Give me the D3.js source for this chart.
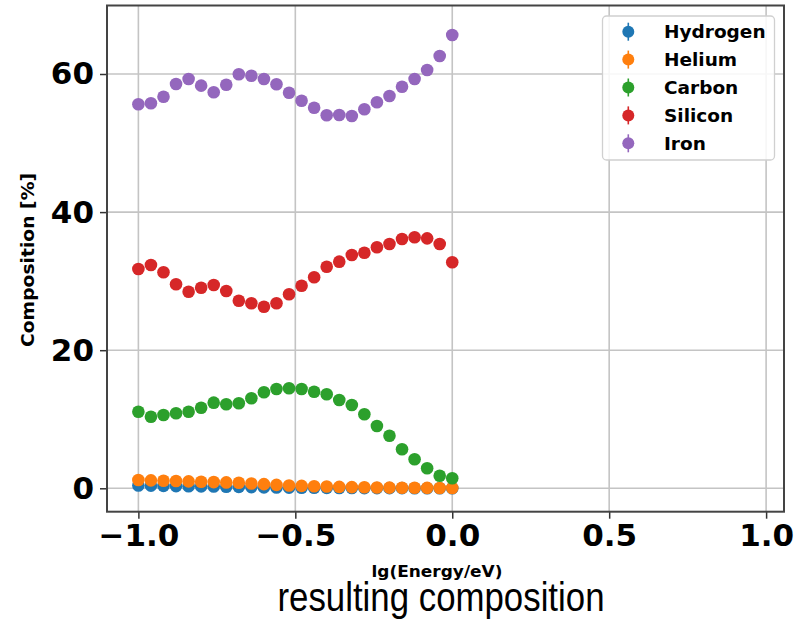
<!DOCTYPE html>
<html>
<head>
<meta charset="utf-8">
<script src="https://cdn.jsdelivr.net/npm/d3@7"></script>
<style>
  html, body { margin: 0; padding: 0; background: #fff; }
  svg { display: block; }
</style>
</head>
<body>
<script>
// Energy bins: lg(E/eV) from -1.0 to 0.0 in steps of 0.04
const energy = [-1.00, -0.96, -0.92, -0.88, -0.84, -0.80, -0.76, -0.72, -0.68, -0.64,
                -0.60, -0.56, -0.52, -0.48, -0.44, -0.40, -0.36, -0.32, -0.28, -0.24,
                -0.20, -0.16, -0.12, -0.08, -0.04, 0.00];

const elements = ["Hydrogen", "Helium", "Carbon", "Silicon", "Iron"];
const colors = ["#1f77b4", "#ff7f0e", "#2ca02c", "#d62728", "#9467bd"];

// Composition fractions in percent per element
const hydrogen = [0.40, 0.38, 0.35, 0.32, 0.30, 0.28, 0.25, 0.22, 0.20, 0.17,
                  0.14, 0.12, 0.10, 0.08, 0.07, 0.06, 0.05, 0.04, 0.03, 0.03,
                  0.02, 0.02, 0.01, 0.01, 0.01, 0.01];
const helium = [1.20, 1.15, 1.10, 1.05, 1.00, 0.95, 0.90, 0.85, 0.80, 0.70,
                0.60, 0.50, 0.40, 0.35, 0.30, 0.25, 0.20, 0.17, 0.15, 0.12,
                0.10, 0.08, 0.07, 0.06, 0.05, 0.05];
const carbon = [11.09, 10.37, 10.62, 10.86, 11.09, 11.67, 12.40, 12.17, 12.31, 13.03,
                13.90, 14.38, 14.48, 14.38, 13.99, 13.61, 12.79, 12.07, 10.72, 9.03,
                7.62, 5.65, 4.20, 2.90, 1.82, 1.45];
const silicon = [31.76, 32.34, 31.28, 29.54, 28.47, 29.05, 29.44, 28.57, 27.17, 26.79,
                 26.30, 26.79, 28.10, 29.34, 30.56, 32.09, 32.82, 33.79, 34.12, 34.90,
                 35.38, 36.10, 36.35, 36.20, 35.38, 32.73];
const iron = [55.61, 55.76, 56.71, 58.55, 59.28, 58.31, 57.35, 58.45, 59.96, 59.75,
              59.28, 58.51, 57.29, 56.13, 55.12, 54.02, 54.06, 53.92, 54.89, 55.90,
              56.81, 58.16, 59.28, 60.58, 62.61, 65.65];

const seriesValues = [hydrogen, helium, carbon, silicon, iron];

const xTicks = [-1.0, -0.5, 0.0, 0.5, 1.0];
const yTicks = [0, 20, 40, 60];

const xLabel = "lg(Energy/eV)";
const yLabel = "Composition [%]";
const title = "resulting composition";

const W = 807, H = 620;
const plot = { left: 107, right: 784, top: 5.5, bottom: 511.7 };

const svg = d3.select("body").append("svg")
  .attr("width", W).attr("height", H)
  .attr("viewBox", `0 0 ${W} ${H}`);

svg.append("rect").attr("width", W).attr("height", H).attr("fill", "#fff");

const x = d3.scaleLinear().domain([-1.1, 1.057]).range([plot.left, plot.right]);
const y = d3.scaleLinear().domain([-3.39, 69.92]).range([plot.bottom, plot.top]);

// Grid
const grid = svg.append("g").attr("stroke", "#c4c4c4").attr("stroke-width", 1.6);
grid.selectAll("line.gx").data(xTicks).join("line")
  .attr("x1", d => x(d)).attr("x2", d => x(d))
  .attr("y1", plot.top).attr("y2", plot.bottom);
grid.selectAll("line.gy").data(yTicks).join("line")
  .attr("y1", d => y(d)).attr("y2", d => y(d))
  .attr("x1", plot.left).attr("x2", plot.right);

// Data points, drawn in series order so heavier elements sit on top
svg.append("clipPath").attr("id", "plotclip")
  .append("rect").attr("x", plot.left).attr("y", plot.top)
  .attr("width", plot.right - plot.left).attr("height", plot.bottom - plot.top);

const pts = svg.append("g").attr("clip-path", "url(#plotclip)");
seriesValues.forEach((vals, i) => {
  pts.append("g").selectAll("circle")
    .data(vals.map((v, j) => ({ e: energy[j], v })))
    .join("circle")
    .attr("cx", d => x(d.e))
    .attr("cy", d => y(d.v))
    .attr("r", 6.3)
    .attr("fill", colors[i]);
});

// Axes
const xAxis = d3.axisBottom(x).tickValues(xTicks).tickFormat(d3.format(".1f"))
  .tickSizeInner(7).tickSizeOuter(0).tickPadding(5);
const yAxis = d3.axisLeft(y).tickValues(yTicks).tickFormat(d3.format("d"))
  .tickSizeInner(7).tickSizeOuter(0).tickPadding(6);

const gx = svg.append("g").attr("transform", `translate(0,${plot.bottom})`).call(xAxis);
const gy = svg.append("g").attr("transform", `translate(${plot.left},0)`).call(yAxis);

[gx, gy].forEach(g => {
  g.select(".domain").remove();
  g.selectAll(".tick line").attr("stroke", "#333").attr("stroke-width", 1.5);
  g.selectAll(".tick text")
    .attr("fill", "#000")
    .style("font-family", "'DejaVu Sans', sans-serif")
    .style("font-weight", "bold")
    .style("font-size", "31px");
});

// Frame
svg.append("rect")
  .attr("x", plot.left).attr("y", plot.top)
  .attr("width", plot.right - plot.left).attr("height", plot.bottom - plot.top)
  .attr("fill", "none").attr("stroke", "#444").attr("stroke-width", 2);

// Axis labels
svg.append("text")
  .attr("x", 437).attr("y", 577)
  .attr("text-anchor", "middle")
  .attr("textLength", 131).attr("lengthAdjust", "spacingAndGlyphs")
  .style("font-family", "'DejaVu Sans', sans-serif")
  .style("font-weight", "bold").style("font-size", "16px")
  .text(xLabel);

svg.append("text")
  .attr("transform", `translate(34,${(173 + 347) / 2}) rotate(-90)`)
  .attr("text-anchor", "middle")
  .attr("textLength", 174).attr("lengthAdjust", "spacingAndGlyphs")
  .style("font-family", "'DejaVu Sans', sans-serif")
  .style("font-weight", "bold").style("font-size", "18px")
  .text(yLabel);

// Title below the plot
svg.append("text")
  .attr("x", 441).attr("y", 611)
  .attr("text-anchor", "middle")
  .attr("textLength", 327).attr("lengthAdjust", "spacingAndGlyphs")
  .style("font-family", "'Liberation Sans Narrow', 'Liberation Sans', sans-serif")
  .style("font-size", "40px")
  .text(title);

// Legend
const lg = svg.append("g");
lg.append("rect")
  .attr("x", 602.5).attr("y", 16).attr("width", 172).attr("height", 144)
  .attr("rx", 4).attr("fill", "#fff").attr("fill-opacity", 0.85)
  .attr("stroke", "#d0d0d0").attr("stroke-width", 1.3);

const rowY = d3.scaleLinear().domain([0, elements.length - 1]).range([31.7, 143.3]);
const items = lg.selectAll("g.item").data(elements).join("g")
  .attr("transform", (d, i) => `translate(628.3,${rowY(i)})`);
items.append("line")
  .attr("x1", 0).attr("x2", 0).attr("y1", -9).attr("y2", 9)
  .attr("stroke", (d, i) => colors[i]).attr("stroke-width", 1.6);
items.append("circle").attr("r", 6).attr("fill", (d, i) => colors[i]);
items.append("text")
  .attr("x", 35.7).attr("dy", "0.36em")
  .style("font-family", "'DejaVu Sans', sans-serif")
  .style("font-weight", "bold").style("font-size", "18.5px")
  .text(d => d);
</script>
</body>
</html>
